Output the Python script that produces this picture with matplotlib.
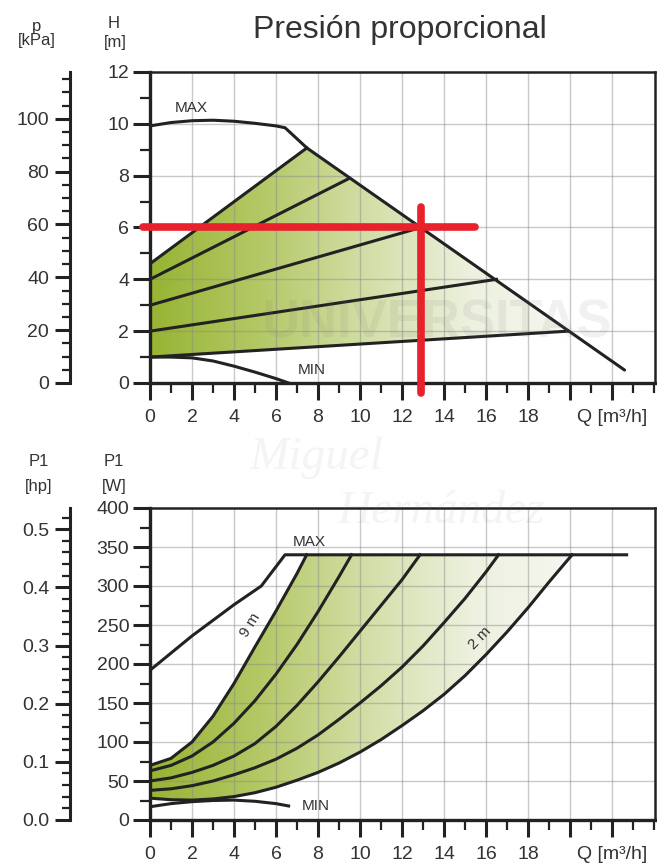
import numpy as np
import matplotlib
matplotlib.use("Agg")
import matplotlib.pyplot as plt
from matplotlib.colors import LinearSegmentedColormap
from matplotlib.patches import Polygon
from matplotlib.ticker import MultipleLocator, FixedLocator

plt.rcParams["font.family"] = ["Liberation Sans", "DejaVu Sans"]

# ---- head curves: Q [m3/h], H [m] ----
max_q = [0, 1, 2, 3, 4, 5, 6, 6.43, 7.47, 22.6]
max_h = [9.92, 10.05, 10.12, 10.14, 10.10, 10.02, 9.92, 9.85, 9.07, 0.5]
min_q = [0, 1, 2, 3, 4, 5, 6, 6.6]
min_h = [1.0, 1.0, 0.97, 0.85, 0.65, 0.42, 0.17, 0.0]
# proportional-pressure lines: H at Q=0 and the point where they hit MAX
prop_h0 = [4.6, 4.0, 3.0, 2.0, 1.0]
prop_q1 = [7.47, 9.5, 12.9, 16.5, 19.9]
prop_h1 = [9.07, 7.9, 6.0, 4.0, 2.0]

# duty point marked in red
duty_q = 12.9
duty_h = 6.0

# ---- power curves: P1 [W] ----
pmax_q = [0, 2, 4, 5.3, 6.43, 22.7]
pmax_w = [192, 236, 276, 300, 340, 340]
pmin_q = [0, 1, 2, 3, 4, 5, 6, 6.6]
pmin_w = [17, 21, 23.5, 25, 25.5, 24, 21, 18]

pa_q = [0, 1, 2, 3, 4, 5, 6, 7, 7.46]
pa_w = [70, 79, 100, 133, 175, 222, 268, 316, 340]
pb_q = [0, 1, 2, 3, 4, 5, 6, 7, 8, 9, 9.6]
pb_w = [63, 70, 82, 100, 124, 153, 187, 225, 267, 312, 340]
pc_q = [0, 1, 2, 3, 4, 5, 6, 7, 8, 9, 10, 11, 12, 12.86]
pc_w = [50, 54, 61, 70, 82, 98, 120, 147, 177, 209, 242, 275, 308, 340]
pd_q = [0, 1, 2, 3, 4, 5, 6, 7, 8, 9, 10, 11, 12, 13, 14, 15, 16, 16.6]
pd_w = [38, 40, 44, 50, 58, 67, 78, 92, 109, 129, 150, 172, 196, 223, 253,
        284, 318, 340]
pe_q = [0, 1, 2, 3, 4, 5, 6, 7, 8, 9, 10, 11, 12, 13, 14, 15, 16, 17, 18,
        19, 20.1]
pe_w = [28, 26, 25.5, 27, 30, 35, 42, 51, 61, 73, 87, 103, 121, 140, 161,
        185, 212, 241, 272, 305, 340]
power_curves = [(pa_q, pa_w), (pb_q, pb_w), (pc_q, pc_w), (pd_q, pd_w),
                (pe_q, pe_w)]

KPA_PER_M = 9.81
W_PER_HP = 745.7

INK = "#222222"
TXT = "#333333"
GREEN = LinearSegmentedColormap.from_list(
    "band", ["#97b433", "#b3c865", "#d2dea6", "#edf1df", "#f6f7f0"])

W, H = 657, 867
fig = plt.figure(figsize=(W / 100, H / 100), dpi=100)


def box(l, t, r, b):
    return [l / W, 1 - b / H, (r - l) / W, (b - t) / H]


def style_main(ax):
    for s in ("left", "bottom"):
        ax.spines[s].set_linewidth(2.4)
    for s in ("top", "right"):
        ax.spines[s].set_linewidth(1.8)
    for s in ax.spines.values():
        s.set_color(INK)
    ax.xaxis.set_major_locator(FixedLocator(np.arange(0, 23, 2)))
    ax.xaxis.set_minor_locator(MultipleLocator(1))
    ax.set_xticklabels([str(v) for v in range(0, 19, 2)] + ["", "Q [m³/h]"])
    ax.tick_params(which="major", length=12, width=2.2, color=INK,
                   labelsize=14, labelcolor=TXT)
    ax.tick_params(axis="x", which="major", pad=7)
    ax.tick_params(axis="y", which="major", pad=3)
    ax.tick_params(which="minor", length=7, width=1.6, color=INK)
    ax.set_xlim(0, 24.05)


def grid(ax, xs, ys):
    # drawn over the band so the lines show faintly through the green
    for g in xs:
        ax.axvline(g, color="#888888", alpha=0.45, lw=1, zorder=2)
    for g in ys:
        ax.axhline(g, color="#888888", alpha=0.45, lw=1, zorder=2)


def side_axis(rect, lo, hi, major, minor, fmt):
    ax = fig.add_axes(rect)
    ax.patch.set_visible(False)
    for s in ("top", "right", "bottom"):
        ax.spines[s].set_visible(False)
    ax.spines["left"].set_linewidth(2.2)
    ax.spines["left"].set_color(INK)
    ax.set_xticks([])
    ax.set_ylim(lo, hi)
    ax.yaxis.set_major_locator(MultipleLocator(major))
    ax.yaxis.set_minor_locator(MultipleLocator(minor))
    ax.yaxis.set_major_formatter(fmt)
    ax.tick_params(which="major", length=11, width=2.2, color=INK,
                   labelsize=14, labelcolor=TXT, pad=4)
    ax.tick_params(which="minor", length=6, width=1.6, color=INK)
    return ax


def gradient(ax, verts, ylo, yhi):
    patch = Polygon(verts, closed=True, facecolor="none", edgecolor="none")
    ax.add_patch(patch)
    im = ax.imshow(np.linspace(0, 1, 256).reshape(1, -1), cmap=GREEN,
                   extent=[0, 20.5, ylo, yhi], aspect="auto",
                   origin="lower", zorder=1, interpolation="bilinear")
    im.set_clip_path(patch)


# ================= head chart =================
ax1 = fig.add_axes(box(150, 72, 655, 383))
verts = [(0, prop_h0[-1]), (prop_q1[-1], prop_h1[-1]),
         (prop_q1[0], prop_h1[0]), (0, prop_h0[0])]
gradient(ax1, verts, 0, 12)
grid(ax1, range(2, 24, 2), range(2, 12, 2))
ax1.plot(max_q, max_h, color=INK, lw=2.2, zorder=3, solid_capstyle="round")
ax1.plot(min_q, min_h, color=INK, lw=2.2, zorder=3)
for h0, q1, h1 in zip(prop_h0, prop_q1, prop_h1):
    ax1.plot([0, q1], [h0, h1], color=INK, lw=2.2, zorder=3)
ax1.text(1.95, 10.6, "MAX", fontsize=11, color=TXT, ha="center", va="center")
ax1.text(7.7, 0.5, "MIN", fontsize=11, color=TXT, ha="center", va="center")
ax1.set_ylim(0, 12)
style_main(ax1)
ax1.yaxis.set_major_locator(MultipleLocator(2))
ax1.yaxis.set_minor_locator(MultipleLocator(1))

# duty point cross
ax1.plot([-0.35, 15.5], [duty_h, duty_h], color="#e8222c", lw=5.5,
         solid_capstyle="round", zorder=5, clip_on=False)
ax1.plot([duty_q, duty_q], [-0.38, 6.8], color="#e8222c", lw=5.5,
         solid_capstyle="round", zorder=5, clip_on=False)

side_axis(box(70, 72, 71, 383), 0, 12 * KPA_PER_M, 20, 5,
          lambda v, _: f"{v:.0f}")

fig.text(400 / W, 1 - 30 / H, "Presión proporcional", fontsize=23,
         color=TXT, ha="center", va="center")
fig.text(37 / W, 1 - 26 / H, "p", fontsize=12, color=TXT, ha="center",
         va="center")
fig.text(37 / W, 1 - 41 / H, "[kPa]", fontsize=12, color=TXT, ha="center",
         va="center")
fig.text(114 / W, 1 - 24 / H, "H", fontsize=12, color=TXT, ha="center",
         va="center")
fig.text(115 / W, 1 - 42 / H, "[m]", fontsize=12, color=TXT, ha="center",
         va="center")

# ================= power chart =================
ax2 = fig.add_axes(box(150, 508, 655, 820))
verts = ([(q, w) for q, w in zip(pa_q, pa_w)]
         + [(q, w) for q, w in zip(pe_q[::-1], pe_w[::-1])])
gradient(ax2, verts, 0, 400)
grid(ax2, range(2, 24, 2), range(50, 400, 50))
ax2.plot(pmax_q, pmax_w, color=INK, lw=2.2, zorder=3)
ax2.plot(pmin_q, pmin_w, color=INK, lw=2.2, zorder=3)
for q, w in power_curves:
    ax2.plot(q, w, color=INK, lw=2.2, zorder=3)
ax2.text(7.6, 357, "MAX", fontsize=11, color=TXT, ha="center", va="center")
ax2.text(7.9, 18, "MIN", fontsize=11, color=TXT, ha="center", va="center")
ax2.text(4.76, 250, "9 m", fontsize=11, color=TXT, ha="center",
         va="center", rotation=58)
ax2.text(15.7, 233, "2 m", fontsize=11, color=TXT, ha="center",
         va="center", rotation=46)
ax2.set_ylim(0, 400)
style_main(ax2)
ax2.yaxis.set_major_locator(MultipleLocator(50))
ax2.yaxis.set_minor_locator(MultipleLocator(25))

side_axis(box(70, 508, 71, 820), 0, 400 / W_PER_HP, 0.1, 0.02,
          lambda v, _: f"{v:.1f}")

fig.text(39 / W, 1 - 461 / H, "P1", fontsize=12, color=TXT, ha="center",
         va="center")
fig.text(39 / W, 1 - 486 / H, "[hp]", fontsize=12, color=TXT, ha="center",
         va="center")
fig.text(114 / W, 1 - 461 / H, "P1", fontsize=12, color=TXT, ha="center",
         va="center")
fig.text(114 / W, 1 - 486 / H, "[W]", fontsize=12, color=TXT, ha="center",
         va="center")

# faint publisher watermark over both charts
fig.text(262 / W, 1 - 324 / H, "UNIVERSITAS", fontsize=38,
         fontweight="bold", color="#777777", alpha=0.10, ha="left",
         va="center", zorder=10)
fig.text(250 / W, 1 - 458 / H, "Miguel", fontsize=34, style="italic",
         family="Liberation Serif", color="#777777", alpha=0.08,
         ha="left", va="center", zorder=10)
fig.text(338 / W, 1 - 512 / H, "Hernández", fontsize=34, style="italic",
         family="Liberation Serif", color="#777777", alpha=0.08,
         ha="left", va="center", zorder=10)

fig.savefig("out.png", dpi=100)
